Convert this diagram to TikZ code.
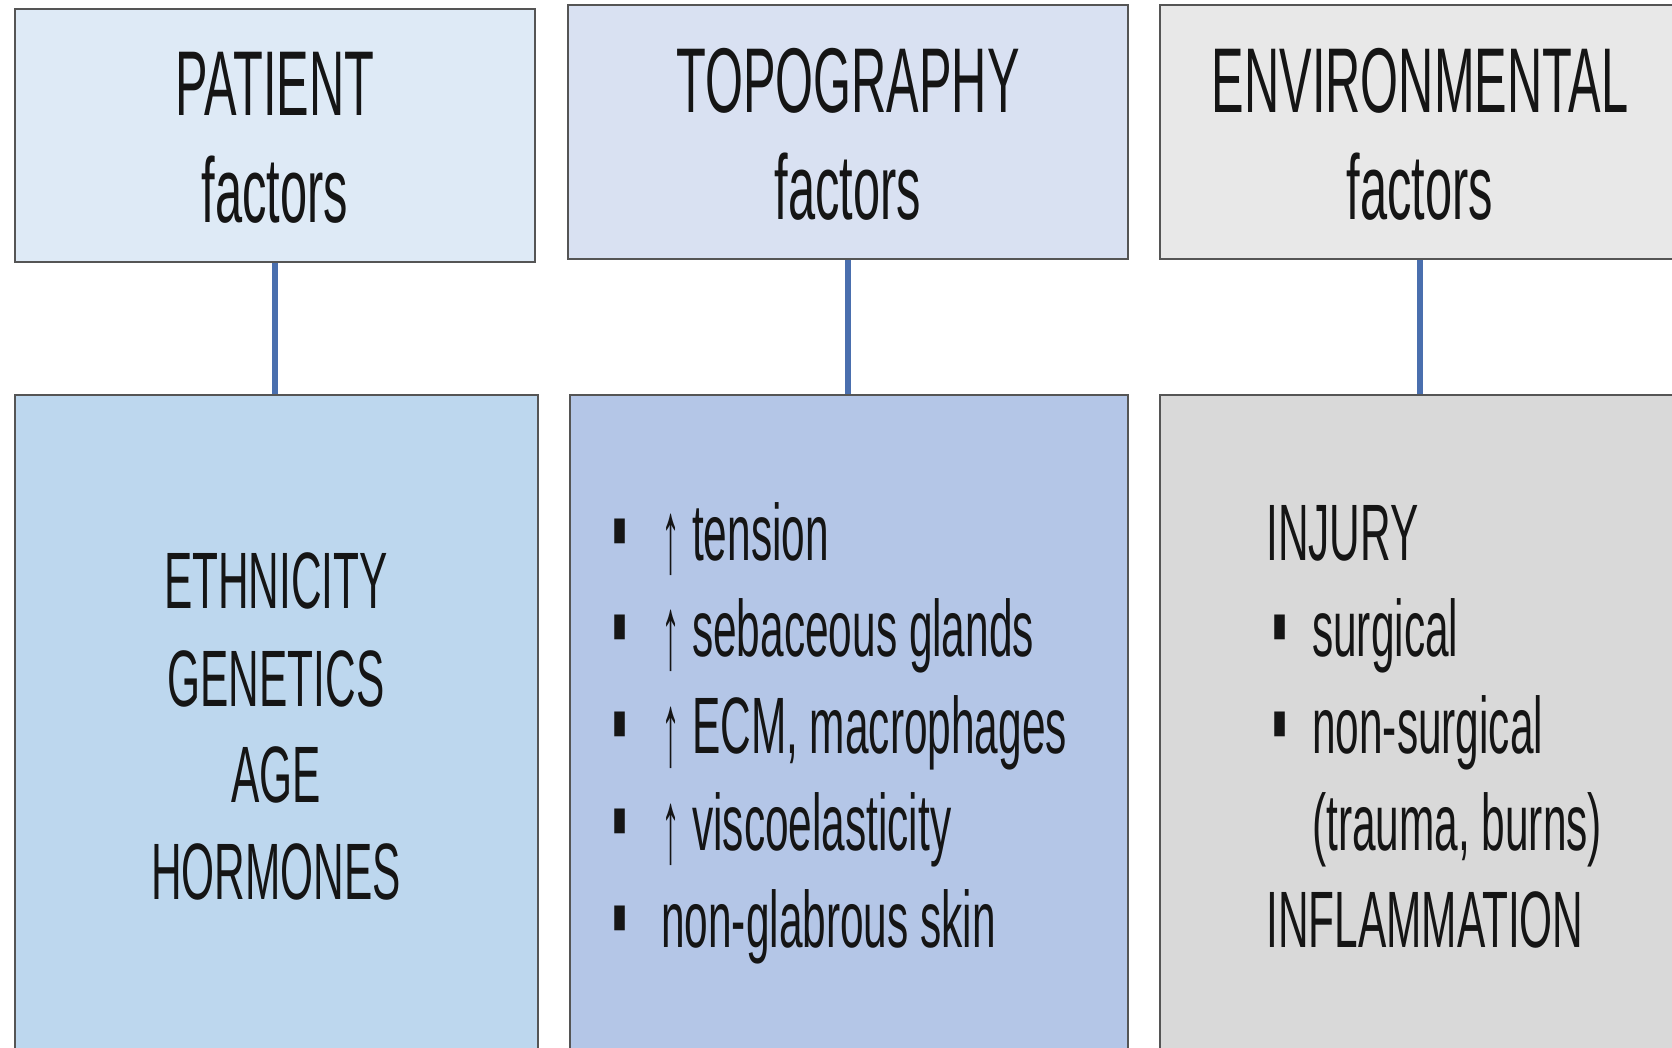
\documentclass[tikz,border=0pt]{standalone}
\usepackage{fontspec}
\setmainfont{Liberation Sans}[FakeStretch=0.53]
\definecolor{bordergray}{HTML}{555555}
\definecolor{linkblue}{HTML}{4A6FAE}
\definecolor{txt}{HTML}{151515}
\definecolor{ptop}{HTML}{DEEAF6}
\definecolor{pbot}{HTML}{BDD7EE}
\definecolor{ttop}{HTML}{D9E1F2}
\definecolor{tbot}{HTML}{B4C6E7}
\definecolor{etop}{HTML}{E8E8E8}
\definecolor{ebot}{HTML}{D9D9D9}
\newcommand\mybul[1]{\makebox[#1][l]{\raisebox{-2pt}{\scalebox{1}[1.25]{▪}}}}
\newcommand\myarr{\makebox[31pt][l]{\raisebox{-12pt}{\scalebox{0.9}[1.3]{↑}}}}
\begin{document}
\begin{tikzpicture}[x=1pt,y=-1pt,
  box/.style={draw=bordergray, line width=2.5pt, inner sep=0pt, rectangle},
  head/.style={font=\fontsize{92}{110}\selectfont, anchor=base, inner sep=0pt, text=txt},
  body/.style={font=\fontsize{80}{97}\selectfont, anchor=base, inner sep=0pt, text=txt},
  item/.style={body, anchor=base west},
  link/.style={draw=linkblue, line width=5.5pt}]
\useasboundingbox (0,0) rectangle (1672,1047);
\clip (0,0) rectangle (1672,1047);
\fill[white] (0,0) rectangle (1672,1047);

% top boxes
\node[box, fill=ptop, minimum width=520pt, minimum height=253pt] (pt) at (275,135.5) {};
\node[box, fill=ttop, minimum width=560pt, minimum height=254pt] (tt) at (848,132) {};
\node[box, fill=etop, minimum width=520pt, minimum height=254pt] (et) at (1420,132) {};

% bottom boxes
\node[box, fill=pbot, minimum width=523pt, minimum height=665pt] (pb) at (276.5,727.5) {};
\node[box, fill=tbot, minimum width=558pt, minimum height=665pt] (tb) at (849,727.5) {};
\node[box, fill=ebot, minimum width=520pt, minimum height=665pt] (eb) at (1420,727.5) {};

% connectors
\draw[link] (pt.south) -- (pt.south |- pb.north);
\draw[link] (tt.south) -- (tt.south |- tb.north);
\draw[link] (et.south) -- (eb.north);

% headings
\node[head] (ph1) at (275,115) {PATIENT};
\node[head] (ph2) at (275,222) {factors};
\node[head] (th1) at (848,112) {TOPOGRAPHY};
\node[head] (th2) at (848,219) {factors};
\node[head] (eh1) at (1420,112) {ENVIRONMENTAL};
\node[head] (eh2) at (1420,219) {factors};

% patient body
\node[body] (pl1) at (276,608) {ETHNICITY};
\node[body] (pl2) at (276,706) {GENETICS};
\node[body] (pl3) at (276,802) {AGE};
\node[body] (pl4) at (276,899) {HORMONES};

% topography body
\node[item] (tl1) at (612,560) {\mybul{49pt}\myarr tension};
\node[item] (tl2) at (612,656) {\mybul{49pt}\myarr sebaceous glands};
\node[item] (tl3) at (612,753) {\mybul{49pt}\myarr ECM, macrophages};
\node[item] (tl4) at (612,850) {\mybul{49pt}\myarr viscoelasticity};
\node[item] (tl5) at (612,947) {\mybul{49pt}non-glabrous skin};

% environmental body
\node[item] (el1) at (1266,560) {INJURY};
\node[item] (el2) at (1272,656) {\mybul{40pt}surgical};
\node[item] (el3) at (1272,753) {\mybul{40pt}non-surgical};
\node[item] (el4) at (1312,850) {(trauma, burns)};
\node[item] (el5) at (1266,947) {INFLAMMATION};
\end{tikzpicture}
\end{document}
